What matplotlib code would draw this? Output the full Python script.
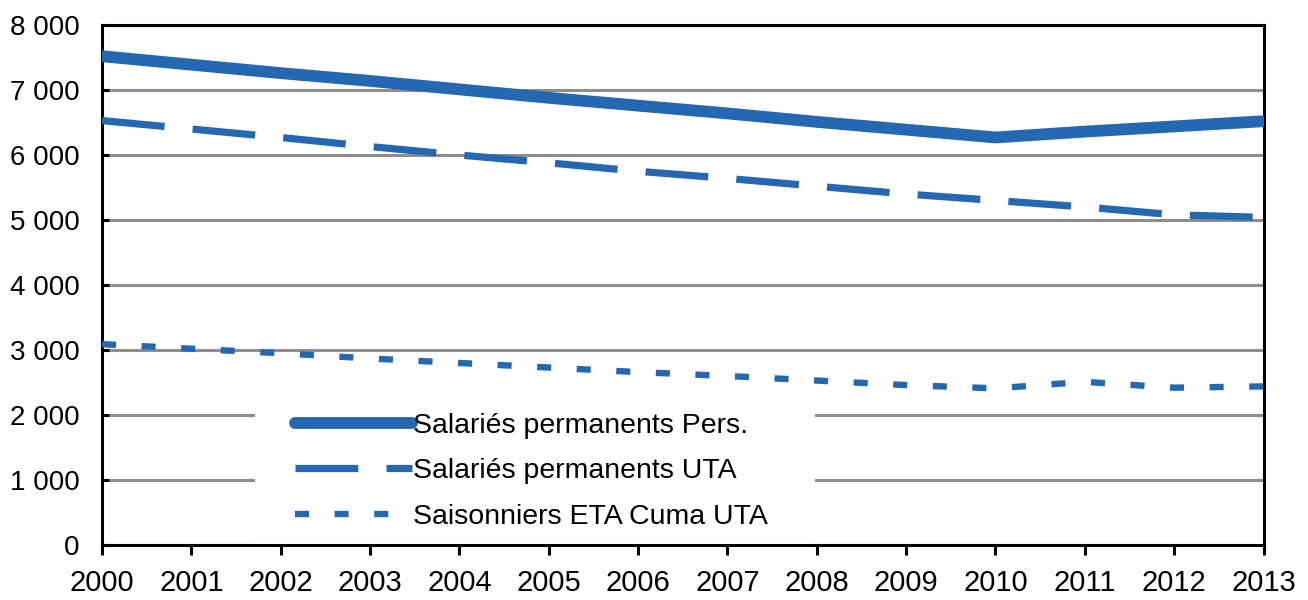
import matplotlib.pyplot as plt
from matplotlib.ticker import FuncFormatter
from matplotlib.patches import Rectangle
import numpy as np

plt.rcParams['font.family'] = ['Liberation Sans', 'DejaVu Sans']

# données
annees = list(range(2000, 2014))
perm_pers = [7520, 7390, 7260, 7140, 7010, 6880, 6760, 6640, 6510, 6390, 6270, 6360, 6440, 6520]
perm_uta = [6530, 6400, 6270, 6130, 6000, 5880, 5750, 5640, 5520, 5400, 5300, 5200, 5080, 5040]
saison_uta = [3090, 3020, 2950, 2870, 2800, 2730, 2660, 2600, 2530, 2460, 2410, 2510, 2420, 2440]
noms = ["Salariés permanents Pers.", "Salariés permanents UTA", "Saisonniers ETA Cuma UTA"]

bleu = "#2468B2"

fig = plt.figure(figsize=(13.08, 6), dpi=100)
ax = fig.add_axes([0.078, 0.0917, 0.888, 0.8666])

l1, = ax.plot(annees, perm_pers, color=bleu, lw=8.5, solid_capstyle='round', zorder=3)
l2, = ax.plot(annees, perm_uta, color=bleu, lw=5.2, dashes=(8.7, 3.9), dash_capstyle='butt', zorder=3)
l3, = ax.plot(annees, saison_uta, color=bleu, lw=4.6, dashes=(2.2, 4.0), dash_capstyle='butt', zorder=3)

ax.set_xlim(2000, 2013)
ax.set_ylim(0, 8000)
ax.set_xticks(annees)
ax.set_yticks(np.arange(0, 8001, 1000))
ax.yaxis.set_major_formatter(FuncFormatter(lambda v, p: f"{int(v):,}".replace(",", " ")))

ax.grid(axis='y', color='#8E8E8E', lw=2.2, zorder=0.5)
ax.set_axisbelow(True)
for s in ax.spines.values():
    s.set_linewidth(2.2)
    s.set_color('black')

ax.tick_params(axis='x', direction='out', length=7, width=2.2, labelsize=21, pad=10)
ax.tick_params(axis='y', direction='in', length=5, width=2.2, labelsize=20, pad=16)

# fond blanc de la légende (masque le quadrillage)
ax.add_patch(Rectangle((0.132, 0.0), 0.482, 0.29, transform=ax.transAxes,
                       facecolor='white', edgecolor='none', zorder=1))

leg = ax.legend([l1, l2, l3], noms, loc='upper left', bbox_to_anchor=(0.166, 0.254),
                borderaxespad=0, frameon=False, fontsize=20.5,
                handlelength=4.1, handletextpad=0.05, labelspacing=0.68,
                borderpad=0)
leg.set_zorder(2)

fig.savefig("out.png", dpi=100)
